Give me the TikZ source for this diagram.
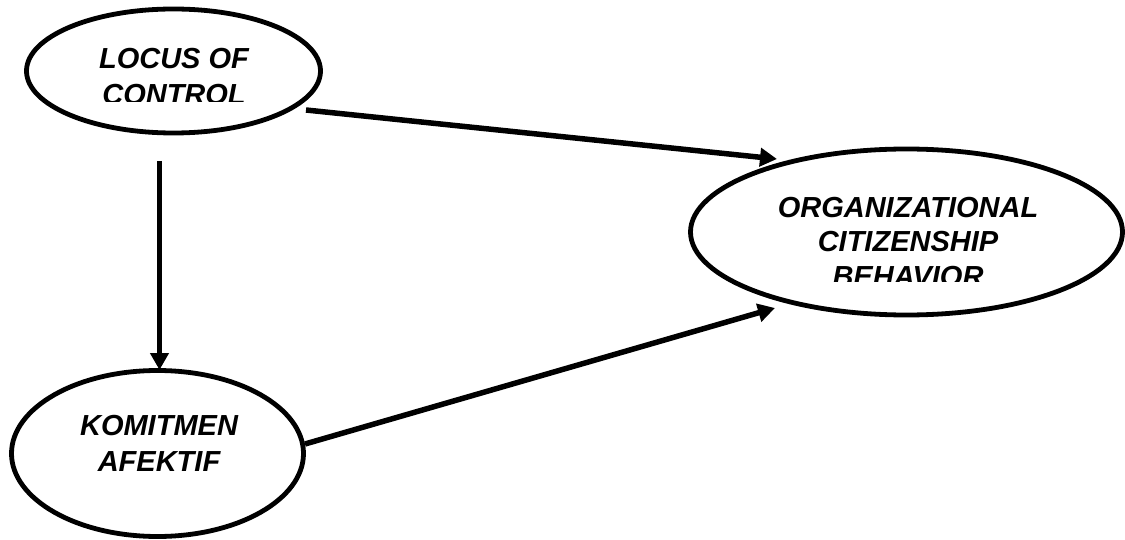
\documentclass[tikz,border=0pt]{standalone}
\usepackage{fontspec}
\setmainfont{Liberation Sans}
\usetikzlibrary{shapes.geometric,arrows.meta,calc}
\begin{document}
\begin{tikzpicture}[x=1pt,y=-1pt,
  oval/.style={draw=black,line width=4.8pt,ellipse,inner sep=0pt},
  lbl/.style={font=\fontsize{29}{36}\selectfont\bfseries\itshape,align=center,inner sep=0pt,anchor=base},
  arr/.style={line width=5.5pt,-{Triangle[length=17pt,width=18pt]}}]
\useasboundingbox[fill=white] (0,0) rectangle (1125,540);
\node[oval,minimum width=294pt,minimum height=124pt] (loc) at (173.5,71) {};
\node[oval,minimum width=432pt,minimum height=166pt] (ocb) at (906.5,232) {};
\node[oval,minimum width=292pt,minimum height=166pt] (kom) at (157.5,453.5) {};
\begin{scope}
  \clip (20,20) rectangle (330,101.7);
  \node[lbl] (loct) at (174,104.3) {LOCUS OF\\CONTROL};
\end{scope}
\begin{scope}
  \clip (700,160) rectangle (1110,282);
  \node[lbl,font=\fontsize{29}{35}\selectfont\bfseries\itshape] (ocbt) at (908,287) {ORGANIZATIONAL\\CITIZENSHIP\\BEHAVIOR};
\end{scope}
\node[lbl] (komt) at (159,471.7) {KOMITMEN\\AFEKTIF};
\draw[arr] ($(loc)+(132.5,39)$) -- ($(ocb)+(-129.5,-73)$);
\draw[arr] ($(loc)+(-14,90)$) -- ($(kom)+(2,-83.5)$);
\draw[arr] ($(kom)+(147.5,-9.5)$) -- ($(ocb)+(-131.5,76)$);
\end{tikzpicture}
\end{document}
